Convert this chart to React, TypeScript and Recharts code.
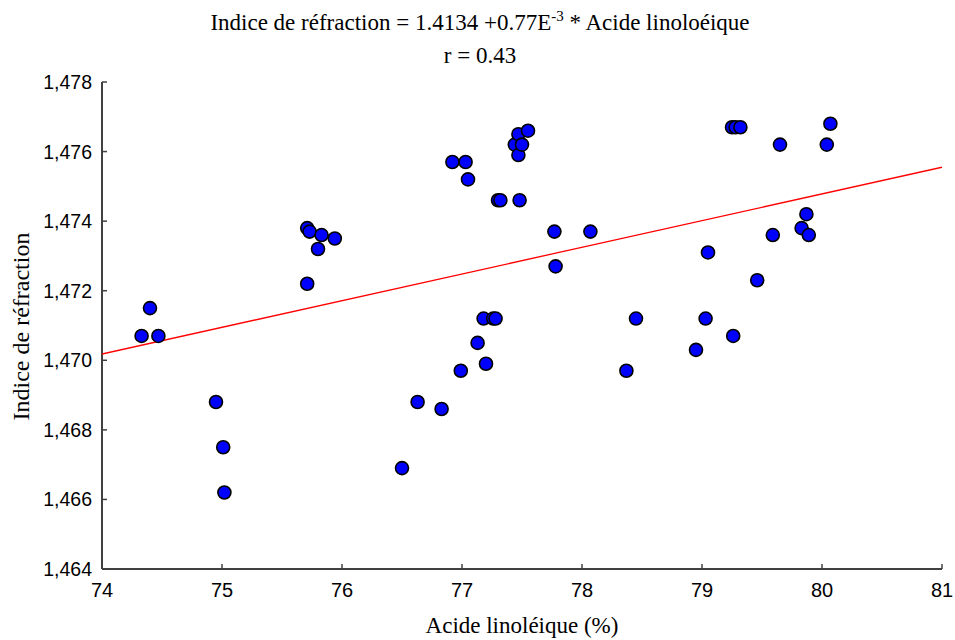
import { ScatterChart, Scatter, XAxis, YAxis } from 'recharts';

// Acide linoléique (%) vs indice de réfraction
const acideLinoleique = [
  74.33, 74.40, 74.47, 74.95, 75.01, 75.02, 75.71, 75.71, 75.73, 75.83,
  75.80, 75.94, 76.50, 76.63, 76.83, 76.92, 76.99, 77.03, 77.05, 77.13,
  77.18, 77.20, 77.26, 77.28, 77.30, 77.32, 77.44, 77.47, 77.47, 77.48,
  77.50, 77.55, 77.77, 77.78, 78.07, 78.37, 78.45, 78.95, 79.03, 79.05,
  79.26, 79.25, 79.28, 79.32, 79.46, 79.59, 79.65, 79.83, 79.87, 79.89,
  80.04, 80.07,
];
const indiceRefraction = [
  1.4707, 1.4715, 1.4707, 1.4688, 1.4675, 1.4662, 1.4722, 1.4738, 1.4737, 1.4736,
  1.4732, 1.4735, 1.4669, 1.4688, 1.4686, 1.4757, 1.4697, 1.4757, 1.4752, 1.4705,
  1.4712, 1.4699, 1.4712, 1.4712, 1.4746, 1.4746, 1.4762, 1.4765, 1.4759, 1.4746,
  1.4762, 1.4766, 1.4737, 1.4727, 1.4737, 1.4697, 1.4712, 1.4703, 1.4712, 1.4731,
  1.4707, 1.4767, 1.4767, 1.4767, 1.4723, 1.4736, 1.4762, 1.4738, 1.4742, 1.4736,
  1.4762, 1.4768,
];

// regression line end points
const fitX = [74, 81];
const fitY = [1.47018, 1.47555];

const xTicks = [74, 75, 76, 77, 78, 79, 80, 81];
const yTicks = [1.464, 1.466, 1.468, 1.47, 1.472, 1.474, 1.476, 1.478];

const points = acideLinoleique.map((x, i) => ({ x, y: indiceRefraction[i] }));
const fit = fitX.map((x, i) => ({ x, y: fitY[i] }));

const serif = '"Liberation Serif", "Times New Roman", serif';
const sans = '"Liberation Sans", Arial, sans-serif';
const axisColor = '#404040';

function XTick({ x, y, payload }: any) {
  return (
    <g>
      <line x1={x} y1={y} x2={x} y2={y - 5} stroke={axisColor} strokeWidth={1.5} />
      <text x={x} y={y + 21} textAnchor="middle" dominantBaseline="central"
        fontFamily={sans} fontSize={20} fill="#000">
        {payload.value}
      </text>
    </g>
  );
}

function YTick({ x, y, payload }: any) {
  return (
    <g>
      <line x1={x} y1={y} x2={x + 5} y2={y} stroke={axisColor} strokeWidth={1.5} />
      <text x={x - 10} y={y} textAnchor="end" dominantBaseline="central"
        fontFamily={sans} fontSize={19.5} fill="#000">
        {payload.value.toFixed(3).replace('.', ',')}
      </text>
    </g>
  );
}

const Dot = (props: any) => (
  <circle cx={props.cx} cy={props.cy} r={6.5} fill="#0000ff" stroke="#000" strokeWidth={1.6} />
);

export default function App() {
  return (
    <div style={{ position: 'absolute', left: 0, top: 0, width: 955, height: 640, background: '#fff' }}>
      <div style={{ position: 'absolute', left: 0, width: 960, top: 6, textAlign: 'center',
        fontFamily: serif, fontSize: 23, lineHeight: '33px' }}>
        <div>Indice de réfraction = 1.4134 +0.77E<sup style={{ fontSize: 15, lineHeight: 0 }}>-3</sup> * Acide linoloéique</div>
        <div>r = 0.43</div>
      </div>
      <div style={{ position: 'absolute', left: 392, width: 260, top: 613, textAlign: 'center',
        fontFamily: serif, fontSize: 23 }}>
        Acide linoléique (%)
      </div>
      <div style={{ position: 'absolute', left: 21, top: 327, width: 0, height: 0 }}>
        <div style={{ position: 'absolute', left: -130, top: -14, width: 260, textAlign: 'center',
          transform: 'rotate(-90deg)', fontFamily: serif, fontSize: 24, whiteSpace: 'nowrap' }}>
          Indice de réfraction
        </div>
      </div>
      <ScatterChart width={955} height={640} margin={{ top: 82, right: 13, bottom: 41, left: 42 }}
        style={{ position: 'absolute', left: 0, top: 0 }}>
        <XAxis type="number" dataKey="x" domain={[74, 81]} ticks={xTicks} allowDataOverflow
          height={30} tickSize={0} tickMargin={0} tickLine={false}
          axisLine={{ stroke: axisColor, strokeWidth: 2 }} tick={<XTick />} />
        <YAxis type="number" dataKey="y" domain={[1.464, 1.478]} ticks={yTicks} allowDataOverflow
          width={60} tickSize={0} tickMargin={0} tickLine={false}
          axisLine={{ stroke: axisColor, strokeWidth: 2 }} tick={<YTick />} />
        <Scatter data={fit} line={{ stroke: '#ff0000', strokeWidth: 1.3 }} lineType="joint"
          shape={() => null} isAnimationActive={false} />
        <Scatter data={points} shape={<Dot />} isAnimationActive={false} />
      </ScatterChart>
    </div>
  );
}
